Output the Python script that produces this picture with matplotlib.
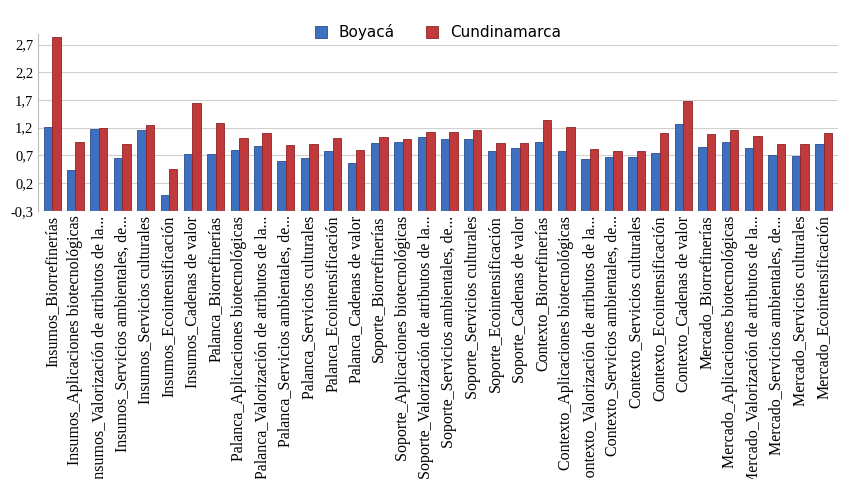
import numpy as np
import matplotlib.pyplot as plt

suffixes = ["Biorrefinerías", "Aplicaciones biotecnológicas", "Valorización de atributos de la...",
            "Servicios ambientales, de...", "Servicios culturales", "Ecointensificación", "Cadenas de valor"]
groups = ["Insumos", "Palanca", "Soporte", "Contexto", "Mercado"]
categories = []
for g in groups:
    for s in suffixes:
        if g == "Mercado" and s == "Cadenas de valor":
            continue
        categories.append(f"{g}_{s}")

boyaca = [1.22, 0.44, 1.17, 0.65, 1.15, -0.02, 0.72,
          0.73, 0.80, 0.87, 0.60, 0.65, 0.78, 0.57,
          0.92, 0.95, 1.03, 1.00, 1.00, 0.77, 0.83,
          0.95, 0.78, 0.63, 0.67, 0.67, 0.75, 1.27,
          0.86, 0.95, 0.83, 0.70, 0.68, 0.90]
cundinamarca = [2.84, 0.95, 1.20, 0.90, 1.24, 0.46, 1.64,
                1.28, 1.02, 1.10, 0.88, 0.90, 1.01, 0.80,
                1.03, 0.99, 1.12, 1.12, 1.15, 0.93, 0.93,
                1.33, 1.22, 0.82, 0.78, 0.78, 1.10, 1.68,
                1.08, 1.15, 1.05, 0.90, 0.90, 1.10]

plt.rcParams["font.family"] = ["Liberation Serif", "DejaVu Serif"]
fig, ax = plt.subplots(figsize=(8.46, 4.79), dpi=100)
x = np.arange(len(categories))
w = 0.36
ax.bar(x - w / 2, np.array(boyaca) + 0.3, w, bottom=-0.3, color="#3F6FBF",
       edgecolor="#2A4F8F", linewidth=0.6, label="Boyacá")
ax.bar(x + w / 2, np.array(cundinamarca) + 0.3, w, bottom=-0.3, color="#C0393B",
       edgecolor="#8E2426", linewidth=0.6, label="Cundinamarca")

ax.set_ylim(-0.3, 2.9)
ax.set_yticks([-0.3, 0.2, 0.7, 1.2, 1.7, 2.2, 2.7])
ax.set_yticklabels(["-0,3", "0,2", "0,7", "1,2", "1,7", "2,2", "2,7"], fontsize=10.5)
ax.set_xlim(-0.6, len(categories) - 0.4)
ax.set_xticks(x)
ax.set_xticklabels(categories, rotation=90, fontsize=11.5)
ax.tick_params(length=0)
ax.yaxis.grid(True, color="#D0D0D0", linewidth=0.8)
ax.set_axisbelow(True)
for s in ["top", "right", "bottom"]:
    ax.spines[s].set_visible(False)
ax.spines["left"].set_color("#BBBBBB")
ax.axhline(-0.3, color="#BBBBBB", linewidth=0.8)
ax.legend(loc="upper center", bbox_to_anchor=(0.5, 1.13), ncol=2, frameon=False,
          handlelength=0.8, handleheight=0.8, prop={"family": "DejaVu Sans", "size": 11})
fig.subplots_adjust(left=0.045, right=0.99, top=0.93, bottom=0.56)
fig.savefig("out.png")
